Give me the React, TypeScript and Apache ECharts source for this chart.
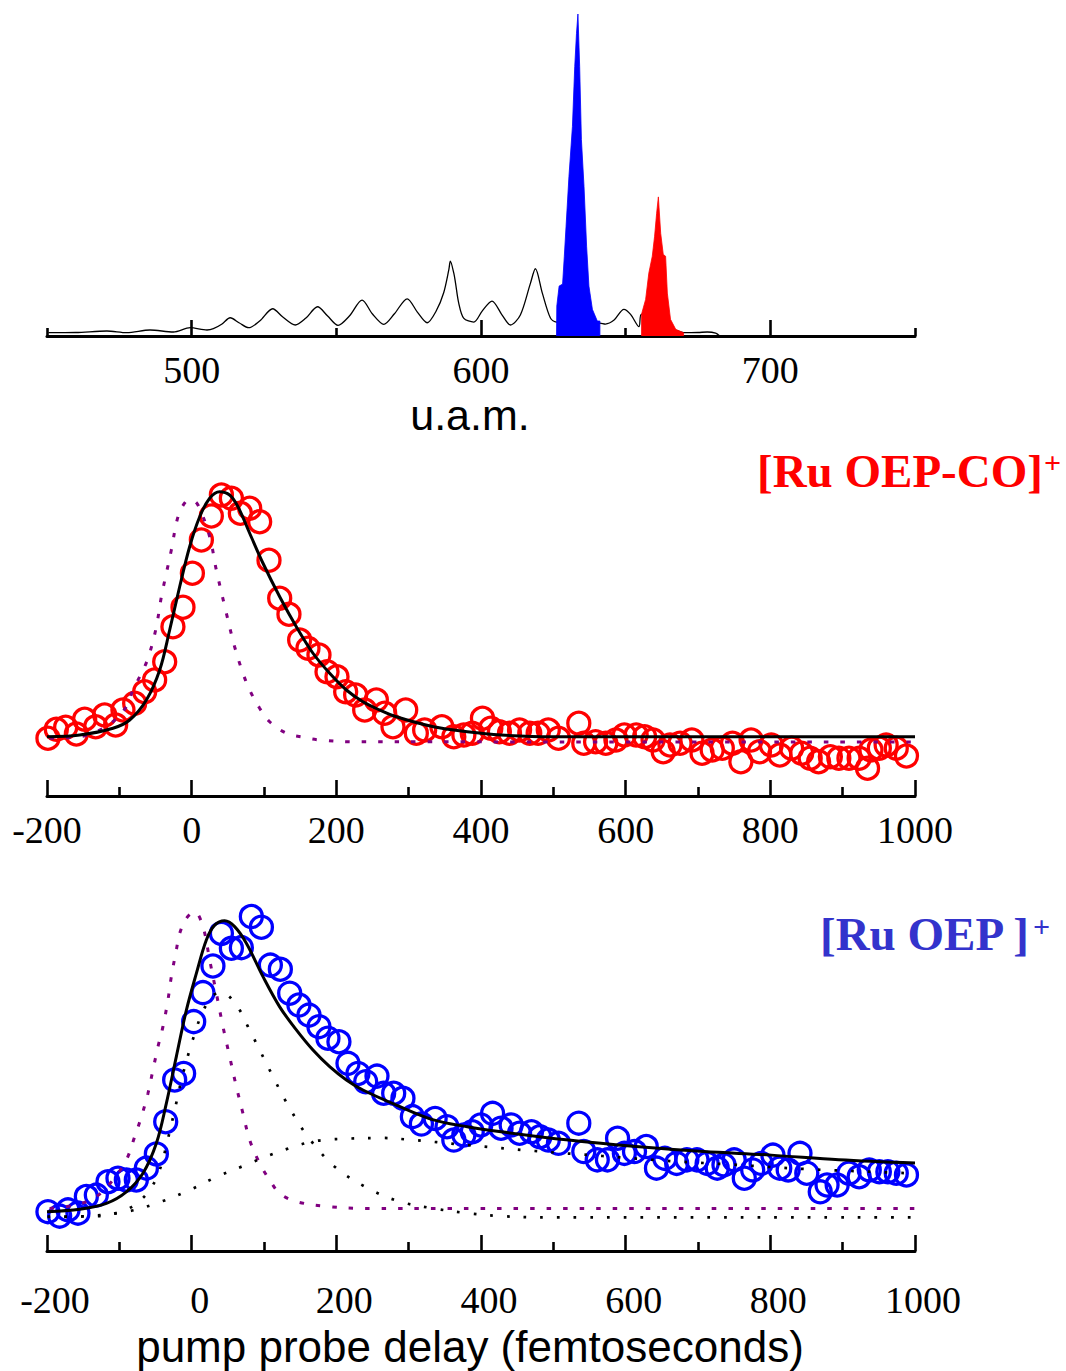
import { useEffect, useRef } from "react";
import * as echarts from "echarts";

// ---------- Top panel: mass spectrum (mass in u.a.m., intensity a.u.) ----------
const massTrace: number[][] = [
  [450.5, 3.3], [460, 3.5], [470.7, 5], [477.6, 3.3], [485.6, 6], [493.7, 4], [499.5, 8.3],
  [505.3, 6], [507.5, 7.3], [510.5, 12], [513.3, 18.3], [516.5, 13], [519.7, 8.3], [523.5, 15],
  [528.0, 27.3], [531.5, 19], [535.8, 11], [539.5, 18], [543.5, 29.3], [547, 20], [550.6, 10.7],
  [554.5, 20], [558.9, 36], [562.5, 22], [566.4, 11.7], [570, 22], [574.5, 37.3], [578, 24],
  [581.4, 13.3], [584.5, 25], [587.1, 43.4], [588.9, 66.7], [589.4, 75], [590.6, 63], [591.2, 53],
  [592.3, 33], [594, 18], [597.5, 14], [600.4, 25], [603.8, 35], [607.3, 21], [610.2, 11],
  [613.6, 21], [617.1, 53], [618.8, 67.4], [621.2, 43], [624, 18], [626.1, 14], [641.1, 13],
  [643, 12], [646, 16], [649.4, 26.7], [651.7, 21.7], [654.6, 9.3], [655.4, 21.7], [660, 10],
  [667, 6], [670, 3.3], [675, 3.5], [678.2, 4], [681.1, 3], [682.3, 0.5],
];
const massBlue: number[][] = [
  [626.1, 0], [626.2, 30], [627.0, 50], [628.2, 52], [628.8, 80], [629.4, 110], [630.4, 160],
  [631.6, 210], [632.4, 270], [633.0, 303], [633.5, 322.7], [634.1, 270], [634.7, 197],
  [635.6, 150], [636.5, 90], [637.3, 50], [638.5, 26.7], [640.2, 15], [641.1, 15], [641.1, 0],
];
const massRed: number[][] = [
  [655.5, 0], [655.5, 22], [656.9, 36.7], [658.0, 63], [659.2, 80], [660.0, 100], [660.7, 123],
  [661.3, 139.4], [662.1, 103], [663.0, 81.7], [663.8, 80], [664.4, 43], [665.5, 16.7],
  [667.3, 6.7], [670, 3.3], [670, 0],
];
const massMinorTicks = [450, 550, 650, 750];
const massMajorTicks = [500, 600, 700];

// ---------- Middle panel: [Ru OEP-CO]+ transient (delay fs, signal a.u.) ----------
const coData: number[][] = [
  [-198.7, 0.015], [-187.1, 0.051], [-174.2, 0.059], [-159.4, 0.032], [-147.9, 0.091],
  [-132.7, 0.061], [-120.3, 0.108], [-105.1, 0.068], [-95.0, 0.128], [-78.8, 0.155],
  [-65.0, 0.201], [-51.2, 0.248], [-37.3, 0.321], [-25.9, 0.461], [-12.0, 0.539], [1.0, 0.675],
  [13.4, 0.808], [27.2, 0.904], [41.1, 0.988], [54.9, 0.975], [67.3, 0.915], [80.2, 0.935],
  [94.0, 0.881], [106.9, 0.727], [121.7, 0.575], [134.5, 0.511], [149.3, 0.408], [160.8, 0.375],
  [176.0, 0.348], [187.1, 0.281], [200.9, 0.261], [212.9, 0.201], [226.7, 0.188], [239.2, 0.128],
  [255.3, 0.168], [266.8, 0.115], [278.3, 0.061], [295.9, 0.128], [310.6, 0.035], [322.1, 0.048],
  [345.9, 0.061], [362.4, 0.021], [376.3, 0.028], [387.9, 0.035], [402.0, 0.095], [413.6, 0.055],
  [425.4, 0.041], [439.4, 0.035], [453.3, 0.048], [467.4, 0.035], [479.0, 0.035], [493.0, 0.048],
  [507.1, 0.015], [535.2, 0.075], [542.1, -0.005], [558.4, 0.001], [572.5, -0.005], [586.5, 0.008],
  [598.2, 0.028], [614.5, 0.028], [626.2, 0.021], [637.9, 0.008], [651.9, -0.039], [661.3, -0.012],
  [675.2, -0.005], [691.5, 0.008], [705.6, -0.045], [719.6, -0.032], [733.6, -0.025],
  [747.7, -0.005], [759.3, -0.079], [773.4, 0.008], [785.0, -0.039], [801.3, -0.012],
  [813.1, -0.052], [829.4, -0.025], [843.3, -0.045], [855.1, -0.065], [866.7, -0.079],
  [883.0, -0.059], [894.7, -0.065], [908.7, -0.065], [922.8, -0.065], [934.4, -0.105],
  [939.1, -0.032], [950.7, -0.025], [960.1, -0.012], [974.1, -0.025], [988.2, -0.056],
];
const coFit: number[][] = [
  [-200, 0.021], [-154.8, 0.028], [-108.8, 0.055], [-85.7, 0.088], [-62.6, 0.168], [-44.2, 0.288],
  [-30.4, 0.448], [-16.6, 0.621], [-2.8, 0.781], [11.1, 0.901], [24.9, 0.975], [38.7, 1.001],
  [52.5, 0.988], [64.0, 0.941], [80.2, 0.835], [98.6, 0.715], [121.7, 0.581], [144.7, 0.461],
  [167.7, 0.355], [190.8, 0.275], [213.9, 0.208], [236.8, 0.161], [259.9, 0.128], [283.0, 0.101],
  [334.3, 0.061], [381.0, 0.041], [427.7, 0.028], [497.7, 0.021], [1000, 0.021],
];
const coPump: number[][] = [
  [-196.4, 0.015], [-154.8, 0.021], [-131.8, 0.041], [-108.8, 0.081], [-90.3, 0.141],
  [-81.2, 0.208], [-71.9, 0.261], [-65.0, 0.301], [-58.1, 0.355], [-48.8, 0.461], [-41.9, 0.581],
  [-35.0, 0.675], [-28.1, 0.768], [-18.9, 0.901], [-8.3, 0.961], [0, 0.968], [8.7, 0.948],
  [24.9, 0.821], [34.1, 0.688], [48.0, 0.515], [59.4, 0.381], [70.9, 0.275], [80.2, 0.208],
  [94.0, 0.135], [107.8, 0.081], [130.9, 0.035], [153.9, 0.019], [177.0, 0.008], [222.6, 0.001],
  [1000, 0],
];

// ---------- Bottom panel: [Ru OEP]+ transient ----------
const oepData: number[][] = [
  [-198.7, 0.018], [-182.5, 0.003], [-171.0, 0.024], [-157.2, 0.013], [-145.6, 0.069],
  [-131.8, 0.074], [-115.7, 0.119], [-101.9, 0.131], [-90.3, 0.125], [-76.5, 0.125],
  [-62.6, 0.165], [-48.8, 0.213], [-35.9, 0.322], [-23.5, 0.463], [-11.1, 0.485], [2.8, 0.660],
  [15.6, 0.758], [29.4, 0.848], [41.1, 0.958], [54.9, 0.908], [68.7, 0.910], [82.5, 1.015],
  [96.4, 0.979], [108.8, 0.851], [122.6, 0.837], [135.5, 0.756], [148.3, 0.716], [162.2, 0.682],
  [176.0, 0.643], [188.4, 0.604], [203.6, 0.592], [216.1, 0.519], [229.9, 0.485], [240.6, 0.457],
  [256.2, 0.476], [265.4, 0.418], [279.3, 0.418], [292.1, 0.401], [305.1, 0.339], [317.6, 0.314],
  [336.6, 0.333], [353.0, 0.305], [362.4, 0.260], [376.3, 0.277], [387.9, 0.288], [399.7, 0.311],
  [416.0, 0.350], [427.7, 0.300], [441.7, 0.311], [453.3, 0.283], [469.8, 0.288], [481.4, 0.271],
  [493.0, 0.260], [507.1, 0.249], [535.2, 0.317], [542.1, 0.221], [560.7, 0.193], [574.8, 0.193],
  [588.8, 0.266], [598.2, 0.215], [612.2, 0.221], [628.5, 0.238], [642.6, 0.165], [654.2, 0.198],
  [670.5, 0.181], [684.6, 0.193], [698.6, 0.193], [712.6, 0.181], [726.6, 0.165], [735.9, 0.176],
  [750.0, 0.193], [764.0, 0.131], [775.6, 0.159], [787.3, 0.181], [803.6, 0.209], [813.0, 0.165],
  [824.7, 0.159], [841.0, 0.215], [850.4, 0.148], [869.0, 0.085], [878.4, 0.108], [892.4, 0.108],
  [908.7, 0.148], [922.8, 0.136], [936.8, 0.159], [950.7, 0.153], [962.5, 0.153], [974.1, 0.148],
  [988.2, 0.142],
];
const oepFit: number[][] = [
  [-200, 0.018], [-154.8, 0.026], [-117.9, 0.046], [-90.3, 0.085], [-67.3, 0.148], [-48.8, 0.249],
  [-35.0, 0.384], [-21.2, 0.542], [-7.3, 0.699], [6.5, 0.823], [20.3, 0.936], [31.8, 0.986],
  [45.6, 1.001], [59.4, 0.981], [75.6, 0.925], [98.6, 0.812], [121.7, 0.710], [144.7, 0.632],
  [167.7, 0.564], [190.8, 0.508], [213.9, 0.463], [236.8, 0.429], [283.0, 0.378], [334.3, 0.328],
  [381.0, 0.305], [427.7, 0.288], [521.1, 0.260], [614.5, 0.238], [708.0, 0.221], [801.3, 0.209],
  [894.7, 0.193], [1000, 0.182],
];
const oepPump: number[][] = [
  [-196.4, 0.029], [-159.4, 0.041], [-131.8, 0.069], [-108.8, 0.125], [-90.3, 0.193],
  [-78.8, 0.271], [-69.5, 0.339], [-60.4, 0.418], [-53.5, 0.497], [-46.6, 0.575], [-39.7, 0.643],
  [-32.8, 0.733], [-28.1, 0.812], [-21.2, 0.902], [-16.6, 0.958], [-7.3, 1.009], [4.1, 1.031],
  [15.6, 0.981], [24.9, 0.868], [34.1, 0.756], [43.3, 0.643], [52.5, 0.542], [61.8, 0.440],
  [70.9, 0.350], [80.2, 0.260], [94.0, 0.181], [107.8, 0.125], [121.7, 0.080], [144.7, 0.052],
  [190.8, 0.035], [236.8, 0.029], [1000, 0.029],
];
const oepFast: number[][] = [
  [-199.1, 0.001], [-127.2, 0.003], [-99.5, 0.017], [-78.8, 0.041], [-58.1, 0.091], [-44.2, 0.159],
  [-33.2, 0.260], [-23.5, 0.361], [-12.4, 0.480], [1.4, 0.598], [15.2, 0.693], [29.0, 0.747],
  [38.7, 0.757], [49.8, 0.750], [66.4, 0.699], [77.8, 0.643], [89.4, 0.587], [110.2, 0.485],
  [133.1, 0.378], [160.8, 0.271], [197.7, 0.170], [243.7, 0.097], [287.6, 0.052], [334.3, 0.029],
  [381.0, 0.013], [427.7, 0.003], [474.2, -0.001], [1000, -0.001],
];
const oepSlow: number[][] = [
  [-199.1, 0], [-145.6, 0.003], [-85.7, 0.020], [-39.7, 0.054], [-2.8, 0.091], [34.1, 0.135],
  [70.9, 0.172], [107.8, 0.209], [135.5, 0.233], [158.6, 0.250], [181.5, 0.260], [218.4, 0.265],
  [264.5, 0.267], [297.0, 0.262], [381.0, 0.243], [474.3, 0.223], [567.8, 0.206], [661.3, 0.189],
  [754.6, 0.176], [848.0, 0.162], [937.3, 0.153], [1000, 0.147],
];

const serif = "'Liberation Serif', 'Times New Roman', serif";
const sans = "'Liberation Sans', Arial, sans-serif";

export default function App() {
  const ref = useRef<HTMLDivElement>(null);

  useEffect(() => {
    if (!ref.current) return;
    const chart = echarts.init(ref.current, undefined, { renderer: "svg" });

    const axisLine = { show: true, onZero: false, lineStyle: { color: "#000", width: 3 } };
    const tickStyle = { color: "#000", width: 2.6 };
    const label = {
      fontSize: 38,
      fontFamily: serif,
      color: "#000",
      formatter: (v: number) => String(v),
    };
    const delayAxis = (gridIndex: number, margin: number, padding: number[]) => ({
      gridIndex,
      type: "value",
      min: -200,
      max: 1000,
      interval: 200,
      position: "bottom",
      axisLine,
      axisTick: { show: true, inside: true, length: 16, lineStyle: tickStyle },
      minorTick: { show: true, splitNumber: 2, length: 9, lineStyle: tickStyle },
      axisLabel: { ...label, margin, padding },
      splitLine: { show: false },
      minorSplitLine: { show: false },
    });

    const circles = (data: number[][], color: string, x: number, y: number) => ({
      type: "scatter",
      xAxisIndex: x,
      yAxisIndex: y,
      data,
      symbol: "circle",
      symbolSize: 22,
      clip: false,
      itemStyle: { color: "rgba(0,0,0,0)", borderColor: color, borderWidth: 3.3, opacity: 1 },
      z: 2,
    });
    const curve = (
      data: number[][],
      color: string,
      width: number,
      type: any,
      x: number,
      y: number,
      z = 3
    ) => ({
      type: "line",
      xAxisIndex: x,
      yAxisIndex: y,
      data,
      showSymbol: false,
      smooth: 0.35,
      clip: false,
      lineStyle: { color, width, type, cap: "butt" },
      z,
    });

    chart.setOption({
      animation: false,
      backgroundColor: "#ffffff",
      grid: [
        { left: 47, top: 14, width: 868, height: 322, outerBoundsMode: "none" },
        { left: 47, top: 446, width: 868, height: 350, outerBoundsMode: "none" },
        { left: 47, top: 880, width: 868, height: 371, outerBoundsMode: "none" },
      ],
      xAxis: [
        {
          gridIndex: 0,
          type: "value",
          min: 450,
          max: 750,
          position: "bottom",
          axisLine,
          axisTick: { show: true, inside: true, length: 8, customValues: massMinorTicks, lineStyle: tickStyle },
          axisLabel: { show: false },
          splitLine: { show: false },
        },
        {
          gridIndex: 0,
          type: "value",
          min: 450,
          max: 750,
          position: "bottom",
          axisLine: { show: false, onZero: false },
          axisTick: { show: true, inside: true, length: 16, customValues: massMajorTicks, lineStyle: tickStyle },
          axisLabel: { ...label, show: true, margin: 15, customValues: massMajorTicks },
          splitLine: { show: false },
        },
        delayAxis(1, 15, [0, 0, 0, 0]),
        delayAxis(2, 30, [0, 0, 0, 16]),
      ],
      yAxis: [
        { gridIndex: 0, type: "value", min: 0, max: 322.7, show: false },
        { gridIndex: 1, type: "value", min: -0.216, max: 1.184, show: false },
        { gridIndex: 2, type: "value", min: -0.1149, max: 1.1385, show: false },
      ],
      series: [
        {
          type: "line",
          xAxisIndex: 0,
          yAxisIndex: 0,
          data: massTrace,
          showSymbol: false,
          smooth: 0.3,
          lineStyle: { color: "#000", width: 1.3 },
          z: 2,
        },
        {
          type: "line",
          xAxisIndex: 0,
          yAxisIndex: 0,
          data: massBlue,
          showSymbol: false,
          lineStyle: { color: "#0000ff", width: 0.8 },
          areaStyle: { color: "#0000ff", opacity: 1 },
          z: 3,
        },
        {
          type: "line",
          xAxisIndex: 0,
          yAxisIndex: 0,
          data: massRed,
          showSymbol: false,
          lineStyle: { color: "#ff0000", width: 0.8 },
          areaStyle: { color: "#ff0000", opacity: 1 },
          z: 3,
        },
        circles(coData, "#ff0000", 2, 1),
        curve(coPump, "#800080", 3, [4.5, 12], 2, 1),
        curve(coFit, "#000000", 3, "solid", 2, 1, 4),
        circles(oepData, "#0000ff", 3, 2),
        curve(oepPump, "#800080", 3, [4.5, 12], 3, 2),
        curve(oepFast, "#000000", 2.7, [2.7, 14], 3, 2),
        curve(oepSlow, "#000000", 2.7, [2.7, 14], 3, 2),
        curve(oepFit, "#000000", 3, "solid", 3, 2, 4),
      ],
      graphic: [
        {
          type: "text",
          x: 470,
          y: 415,
          style: { text: "u.a.m.", fontSize: 43, fontFamily: sans, fill: "#000", align: "center", verticalAlign: "middle" },
        },
        {
          type: "text",
          x: 470,
          y: 1346,
          style: {
            text: "pump probe delay (femtoseconds)",
            fontSize: 44,
            fontFamily: sans,
            fill: "#000",
            align: "center",
            verticalAlign: "middle",
          },
        },
        {
          type: "text",
          x: 757,
          y: 471,
          style: {
            text: "[Ru OEP-CO]",
            fontSize: 47,
            fontWeight: "bold",
            fontFamily: serif,
            fill: "#ff0000",
            align: "left",
            verticalAlign: "middle",
          },
        },
        {
          type: "text",
          x: 1044,
          y: 462,
          style: { text: "+", fontSize: 30, fontWeight: "bold", fontFamily: serif, fill: "#ff0000", align: "left", verticalAlign: "middle" },
        },
        {
          type: "text",
          x: 820,
          y: 934,
          style: {
            text: "[Ru OEP ]",
            fontSize: 47,
            fontWeight: "bold",
            fontFamily: serif,
            fill: "#3333cc",
            align: "left",
            verticalAlign: "middle",
          },
        },
        {
          type: "text",
          x: 1033,
          y: 926,
          style: { text: "+", fontSize: 30, fontWeight: "bold", fontFamily: serif, fill: "#3333cc", align: "left", verticalAlign: "middle" },
        },
      ],
    });

    return () => chart.dispose();
  }, []);

  return (
    <div
      ref={ref}
      style={{ position: "absolute", left: 0, top: 0, width: 1066, height: 1371, background: "#fff" }}
    />
  );
}
